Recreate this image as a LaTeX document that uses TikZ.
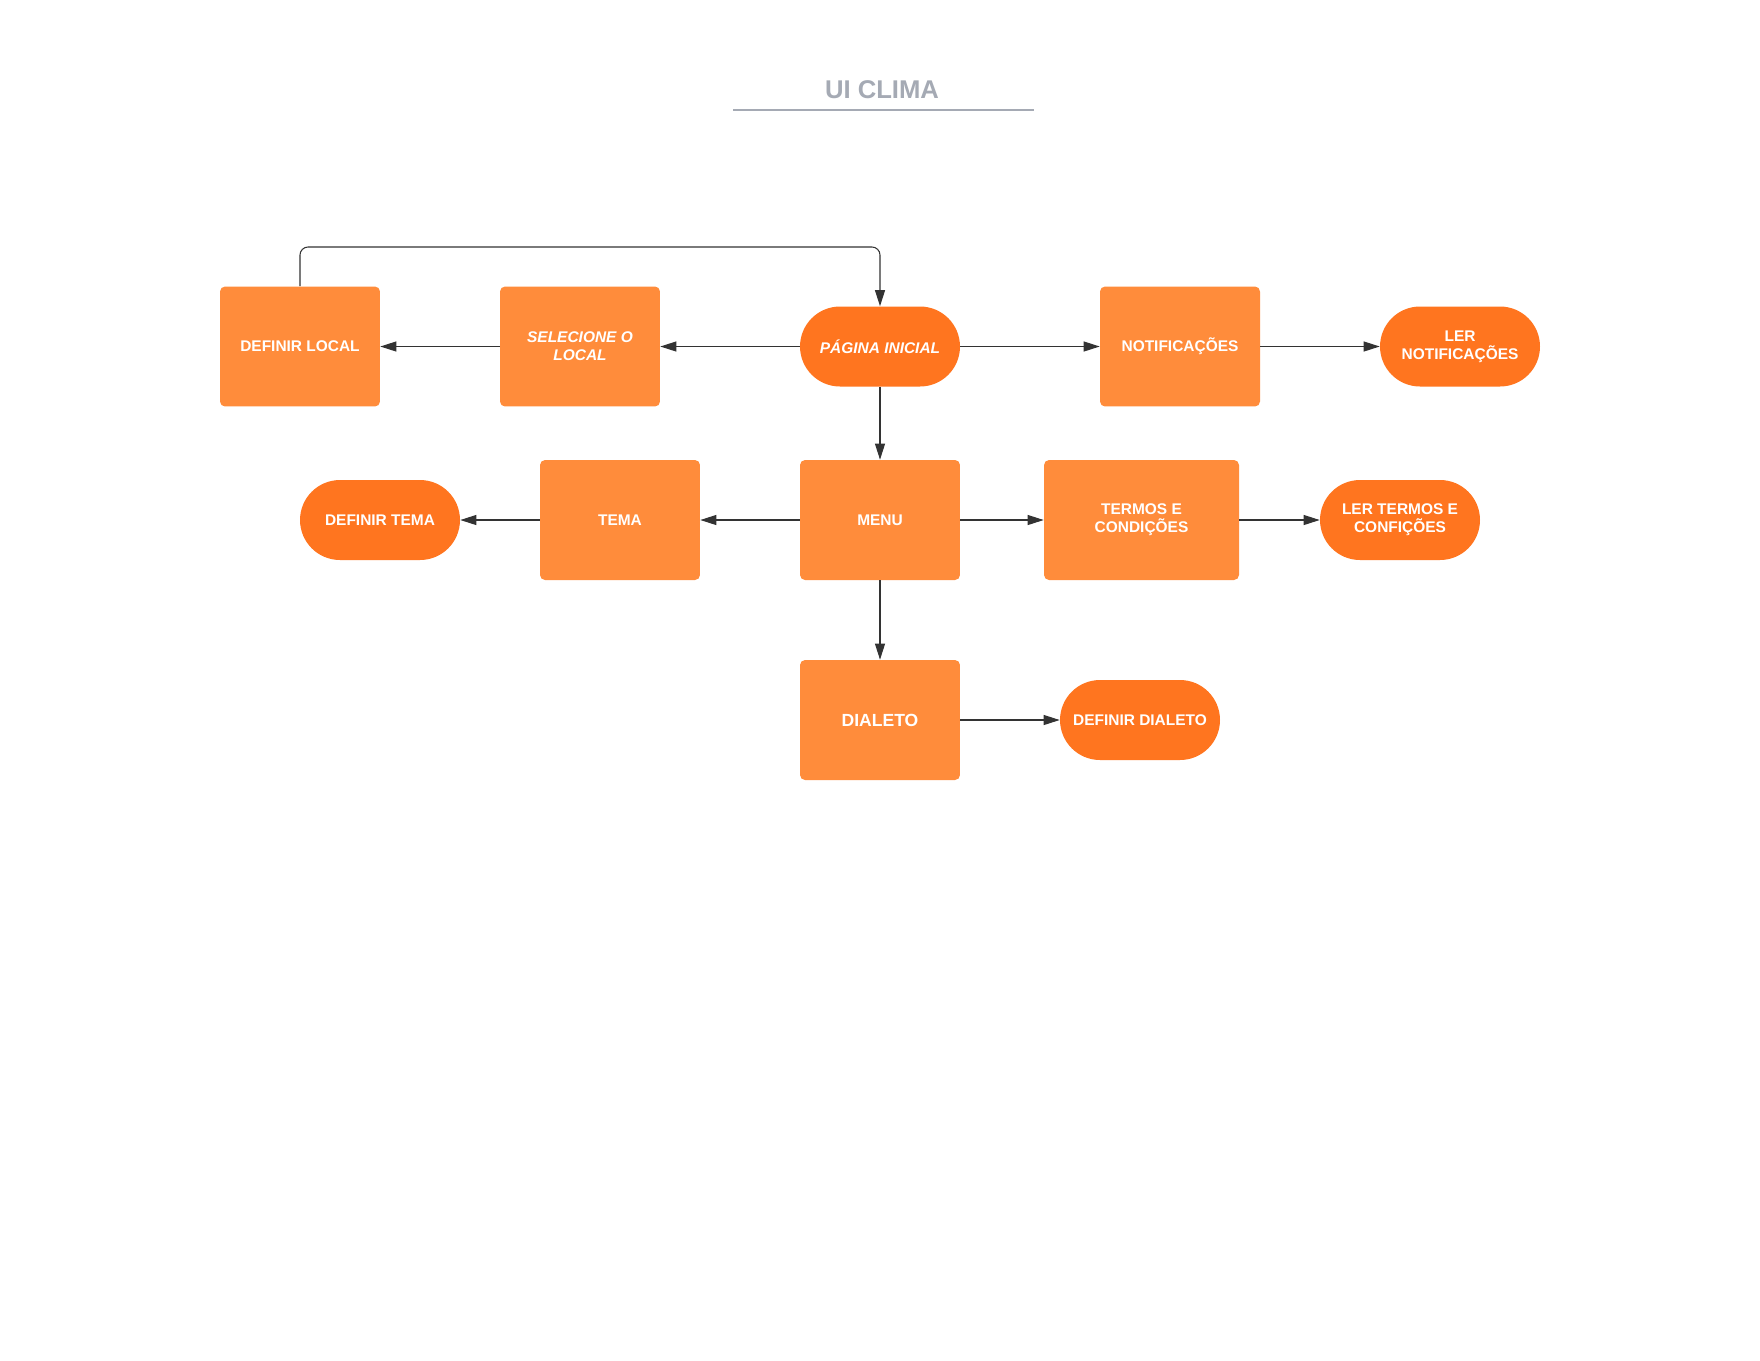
\documentclass[tikz,border=0pt]{standalone}
\usepackage{fontspec}
\setmainfont{Liberation Sans}
\usepackage{xcolor}
\usepackage{tikz}
\usetikzlibrary{arrows.meta}
\definecolor{screenorange}{HTML}{FF8C3B}
\definecolor{actionorange}{HTML}{FF751F}
\definecolor{titlegray}{HTML}{A5AAB4}
\definecolor{linkgray}{HTML}{333333}

\begin{document}
\begin{tikzpicture}[
	x=0.02cm,y=-0.02cm,
	screen/.style={rectangle,rounded corners=0.1cm,minimum width=3.2cm,minimum height=2.4cm,inner sep=0pt,fill=screenorange,text=white,align=center,font=\fontsize{8.8}{10.4}\selectfont\bfseries},
	action/.style={rectangle,rounded corners=0.8cm,minimum width=3.2cm,minimum height=1.6cm,inner sep=0pt,fill=actionorange,text=white,align=center,font=\fontsize{8.8}{10.4}\selectfont\bfseries},
	link/.style={draw=linkgray,line width=0.6pt,-{Triangle[length=0.32cm,width=0.2cm]}}
]
	\fill[white] (0,0) rectangle (1760,1360);
	% title
	\node[font=\fontsize{14.6}{17}\selectfont\bfseries,text=titlegray] (title) at (882,90) {UI CLIMA};
	\draw[titlegray,line width=1.1pt] (733,110) -- (1034,110);
	% first row
	\node[screen] (deflocal) at (300,346.5) {DEFINIR LOCAL};
	\node[screen,font=\fontsize{8.8}{10.4}\selectfont\bfseries\itshape] (selocal) at (580,346.5) {SELECIONE O\\LOCAL};
	\node[action,font=\fontsize{8.8}{10.4}\selectfont\bfseries\itshape] (inicial) at (880,346.5) {PÁGINA INICIAL};
	\node[screen] (notif) at (1180,346.5) {NOTIFICAÇÕES};
	\node[action] (lernotif) at (1460,346.5) {LER\\NOTIFICAÇÕES};
	% second row
	\node[action] (deftema) at (380,520) {DEFINIR TEMA};
	\node[screen] (tema) at (620,520) {TEMA};
	\node[screen] (menu) at (880,520) {MENU};
	\node[screen,minimum width=3.9cm] (termos) at (1141.5,520) {TERMOS E\\CONDIÇÕES};
	\node[action] (lertermos) at (1400,520) {LER TERMOS E\\CONFIÇÕES};
	% third row
	\node[screen,font=\fontsize{10}{12}\selectfont\bfseries] (dialeto) at (880,720) {DIALETO};
	\node[action] (defdialeto) at (1140,720) {DEFINIR DIALETO};
	% links
	\coordinate (looptop) at (590,247);
	\draw[link,rounded corners=0.16cm] (deflocal.north) |- (looptop) -| (inicial.north);
	\draw[link] (inicial) -- (selocal);
	\draw[link] (selocal) -- (deflocal);
	\draw[link] (inicial) -- (notif);
	\draw[link] (notif) -- (lernotif);
	\draw[link] (inicial) -- (menu);
	\draw[link] (menu) -- (tema);
	\draw[link] (tema) -- (deftema);
	\draw[link] (menu) -- (termos);
	\draw[link] (termos) -- (lertermos);
	\draw[link] (menu) -- (dialeto);
	\draw[link] (dialeto) -- (defdialeto);
\end{tikzpicture}
\end{document}
